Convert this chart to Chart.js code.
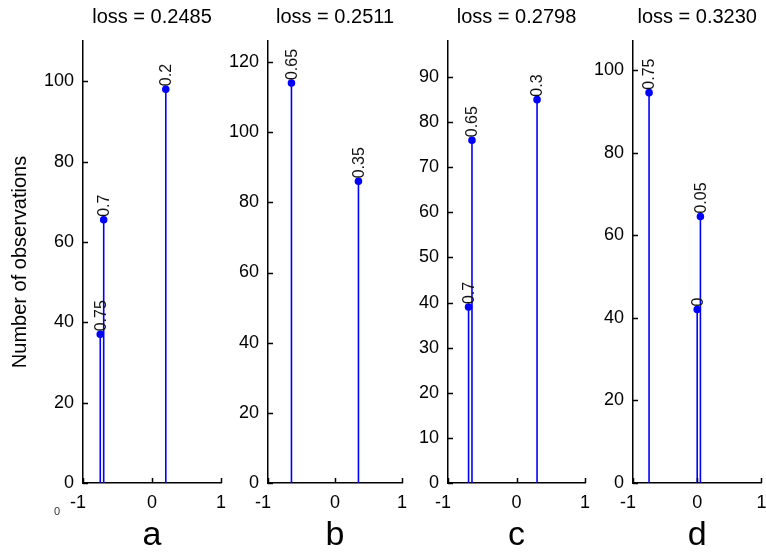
<!DOCTYPE html>
<html>
<head>
<meta charset="utf-8">
<script src="https://cdn.jsdelivr.net/npm/chart.js@4/dist/chart.umd.min.js"></script>
<style>
  html, body { margin:0; padding:0; background:#fff; }
  #wrap { position:relative; width:766px; height:553px; overflow:hidden; }
  .panel { position:absolute; top:0; height:553px; }
</style>
</head>
<body>
<div id="wrap"></div>
<script>
// ---- data ----
const titles = ['loss = 0.2485', 'loss = 0.2511', 'loss = 0.2798', 'loss = 0.3230'];
const letters = ['a', 'b', 'c', 'd'];
const xTicks = [-1, 0, 1];

const yTicksA = [0, 20, 40, 60, 80, 100];
const yTicksB = [0, 20, 40, 60, 80, 100, 120];
const yTicksC = [0, 10, 20, 30, 40, 50, 60, 70, 80, 90];
const yTicksD = [0, 20, 40, 60, 80, 100];
const yMax = [110, 126, 98, 107];

const stemXA = [-0.75, -0.7, 0.2];
const stemYA = [37, 65.5, 98];
const stemLabelA = ['0.75', '0.7', '0.2'];

const stemXB = [-0.65, 0.35];
const stemYB = [114, 86];
const stemLabelB = ['0.65', '0.35'];

const stemXC = [-0.7, -0.65, 0.3];
const stemYC = [39, 76, 85];
const stemLabelC = ['0.7', '0.65', '0.3'];

const stemXD = [-0.75, 0, 0.05];
const stemYD = [94.5, 42, 64.5];
const stemLabelD = ['0.75', '0', '0.05'];

const yTitle = 'Number of observations';
const cornerNote = '0';

// ---- layout (page pixels) ----
const FONT = '"Liberation Sans", Arial, Helvetica, sans-serif';
const plotLeft  = [83, 268, 448, 633];
const plotRight = [221, 402, 585, 762];
const plotTop = 41, plotBottom = 483, H = 553;

const yTicksAll = [yTicksA, yTicksB, yTicksC, yTicksD];
const stemX = [stemXA, stemXB, stemXC, stemXD];
const stemY = [stemYA, stemYB, stemYC, stemYD];
const stemLabel = [stemLabelA, stemLabelB, stemLabelC, stemLabelD];

const decoPlugin = {
  id: 'deco',
  afterDraw(chart, args, opts) {
    const ctx = chart.ctx;
    const ca = chart.chartArea;
    const xs = chart.scales.x, ys = chart.scales.y;
    ctx.save();
    // inward tick marks
    ctx.strokeStyle = '#000';
    ctx.lineWidth = 1.5;
    ctx.beginPath();
    ys.ticks.forEach(t => {
      const py = Math.round(ys.getPixelForValue(t.value)) + 0.5;
      ctx.moveTo(ca.left, py); ctx.lineTo(ca.left + 5, py);
    });
    xs.ticks.forEach(t => {
      const px = Math.round(xs.getPixelForValue(t.value)) + 0.5;
      ctx.moveTo(px, ca.bottom); ctx.lineTo(px, ca.bottom - 5);
    });
    ctx.stroke();
    // stem labels
    ctx.fillStyle = '#111';
    ctx.font = '16px ' + FONT;
    ctx.textAlign = 'left';
    ctx.textBaseline = 'middle';
    opts.labels.forEach((lab, i) => {
      const px = xs.getPixelForValue(opts.xs[i]);
      const py = ys.getPixelForValue(opts.ys[i]);
      ctx.save();
      ctx.translate(px + 1, py - 3);
      ctx.rotate(-Math.PI / 2);
      ctx.fillText(lab, 0, 0);
      ctx.restore();
    });
    // panel title
    ctx.fillStyle = '#000';
    ctx.font = '20px ' + FONT;
    ctx.textAlign = 'center';
    ctx.textBaseline = 'middle';
    ctx.fillText(opts.title, (ca.left + ca.right) / 2, 17);
    if (opts.note) {
      ctx.font = '11px ' + FONT;
      ctx.fillStyle = '#333';
      ctx.fillText(opts.note, 57, 512);
    }
    ctx.restore();
  }
};

const wrap = document.getElementById('wrap');
for (let p = 0; p < 4; p++) {
  const axisW = p === 0 ? 83 : 55;
  const padRight = p === 3 ? 4 : 15;
  const left = plotLeft[p] - axisW;
  const width = axisW + (plotRight[p] - plotLeft[p]) + padRight;
  const div = document.createElement('div');
  div.className = 'panel';
  div.style.left = left + 'px';
  div.style.width = width + 'px';
  const cv = document.createElement('canvas');
  div.appendChild(cv);
  wrap.appendChild(div);

  const datasets = stemX[p].map((xv, i) => ({
    data: [{x: xv, y: 0}, {x: xv, y: stemY[p][i]}],
    showLine: true,
    borderColor: '#0000ff',
    borderWidth: 1.6,
    pointRadius: [0, 3],
    pointHoverRadius: [0, 3],
    pointBackgroundColor: '#0000ff',
    pointBorderColor: '#0000ff',
    pointStyle: 'circle'
  }));

  new Chart(cv, {
    type: 'scatter',
    data: { datasets },
    options: {
      responsive: true,
      maintainAspectRatio: false,
      animation: false,
      events: [],
      layout: { padding: { top: plotTop, right: padRight, left: 0, bottom: 0 } },
      plugins: {
        legend: { display: false },
        tooltip: { enabled: false },
        deco: { labels: stemLabel[p], xs: stemX[p], ys: stemY[p], title: titles[p], note: p === 0 ? cornerNote : null }
      },
      scales: {
        x: {
          type: 'linear', min: -1, max: 1,
          afterBuildTicks: s => { s.ticks = xTicks.map(v => ({value: v})); },
          afterFit: s => { s.height = H - plotBottom; s.paddingLeft = 0; s.paddingRight = 0; },
          grid: { display: false, drawTicks: false },
          border: { display: true, color: '#000', width: 1.5 },
          ticks: { color: '#000', padding: 9, maxRotation: 0, autoSkip: false,
                   font: { family: FONT, size: 18 },
                   callback: v => v === -1 ? '-1  ' : String(v) },
          title: { display: true, text: letters[p], color: '#000',
                   font: { family: FONT, size: 34 }, padding: { top: 0, bottom: -3 } }
        },
        y: {
          type: 'linear', min: 0, max: yMax[p],
          afterBuildTicks: s => { s.ticks = yTicksAll[p].map(v => ({value: v})); },
          afterFit: s => { s.width = axisW; },
          grid: { display: false, drawTicks: false },
          border: { display: true, color: '#000', width: 1.5 },
          ticks: { color: '#000', padding: 9, autoSkip: false,
                   font: { family: FONT, size: 18 } },
          title: { display: p === 0, text: yTitle, color: '#000',
                   font: { family: FONT, size: 20 }, padding: { top: 8, bottom: 0 } }
        }
      }
    },
    plugins: [decoPlugin]
  });
}
</script>
</body>
</html>
